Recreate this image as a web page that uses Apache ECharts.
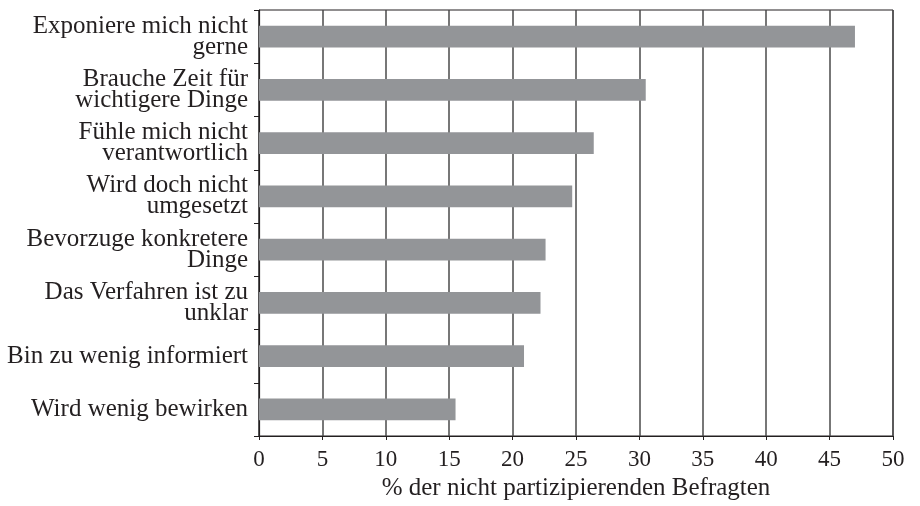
<!DOCTYPE html>
<html>
<head>
<meta charset="utf-8">
<script src="https://cdn.jsdelivr.net/npm/echarts@6/dist/echarts.min.js"></script>
<style>
  html, body { margin: 0; padding: 0; background: #fff; }
  #chart_id { width: 920px; height: 506px; }
</style>
</head>
<body>
<div id="chart_id"></div>
<script>
// Kategorien von unten nach oben (Kategorie-Achse startet unten)
const categories = [
  'Wird wenig bewirken',
  'Bin zu wenig informiert',
  'Das Verfahren ist zu\nunklar',
  'Bevorzuge konkretere\nDinge',
  'Wird doch nicht\numgesetzt',
  'Fühle mich nicht\nverantwortlich',
  'Brauche Zeit für\nwichtigere Dinge',
  'Exponiere mich nicht\ngerne',
];
const values = [15.5, 20.9, 22.2, 22.6, 24.7, 26.4, 30.5, 47.0];
const xTicks = [0, 50, 5]; // min, max, interval
const xName = '% der nicht partizipierenden Befragten';

const ink = '#231f20';
const font = '"Liberation Serif", "DejaVu Serif", serif';

const myChart = echarts.init(document.getElementById('chart_id'));
const option = {
  animation: false,
  textStyle: { fontFamily: font, color: ink },
  grid: {
    left: 259,
    right: 27,
    top: 10,
    bottom: 66,
    show: true,
    borderColor: ink,
    borderWidth: 1,
  },
  xAxis: {
    type: 'value',
    min: xTicks[0],
    max: xTicks[1],
    interval: xTicks[2],
    name: xName,
    nameLocation: 'middle',
    nameGap: 40,
    nameTextStyle: { fontFamily: font, fontSize: 25, color: ink },
    axisLine: { show: true, lineStyle: { color: ink, width: 1.2 } },
    axisTick: { show: true, length: 4, lineStyle: { color: ink } },
    axisLabel: { fontFamily: font, fontSize: 23, color: ink, margin: 12 },
    splitLine: { show: true, lineStyle: { color: '#4a4a4a', width: 1.5 } },
  },
  yAxis: {
    type: 'category',
    data: categories,
    axisLine: { show: true, lineStyle: { color: ink, width: 1.2 } },
    axisTick: { show: true, length: 5, lineStyle: { color: ink } },
    axisLabel: {
      fontFamily: font,
      fontSize: 25,
      lineHeight: 21,
      color: ink,
      margin: 11,
      align: 'right',
      padding: [6, 0, 0, 0],
    },
    splitLine: { show: false },
  },
  series: [
    {
      type: 'bar',
      data: values,
      barWidth: '41%',
      itemStyle: { color: '#939598' },
    },
  ],
};
myChart.setOption(option);
window.onresize = myChart.resize;
</script>
</body>
</html>
